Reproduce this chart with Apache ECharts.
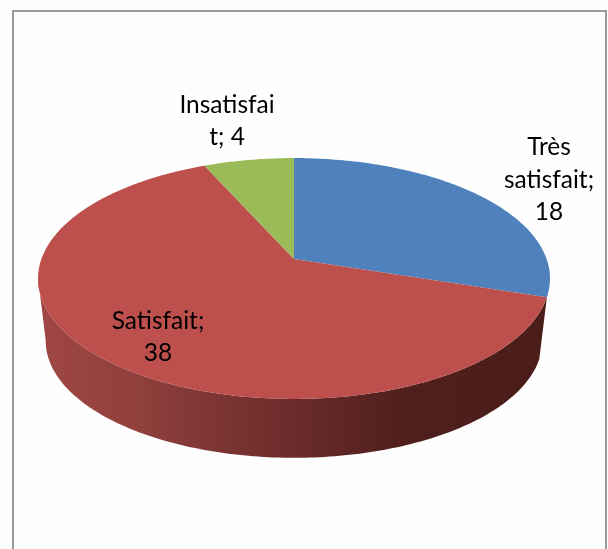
<!DOCTYPE html>
<html>
<head>
<meta charset="utf-8">
<title>Satisfaction</title>
<script src="https://cdn.jsdelivr.net/npm/echarts@6/dist/echarts.min.js"></script>
<style>
html, body { margin: 0; padding: 0; background: #fff; }
#chart { width: 608px; height: 549px; }
</style>
</head>
<body>
<div id="chart"></div>
<script>
// donnees
var categories = ['Très satisfait', 'Satisfait', 'Insatisfait'];
var values = [18, 38, 4];
var colors = ['#4f81bd', '#bd504d', '#9bbb59'];
// retours a la ligne du libelle, comme sur l'original
var labelLines = [['Très', 'satisfait;', '18'], ['Satisfait;', '38'], ['Insatisfai', 't; 4']];
var labelPos = [[549, 180], [158, 337], [227, 121]];

// projection du disque en perspective
var cx = 294, cy = 259, radius = 252.6, tilt = 117.3, persp = 0.162;
var depth = 63, bottomScale = 0.97;
// angle du bord gauche de l'ellipse (tangente du flanc)
var leftEdge = 261;

var total = 0;
for (var t = 0; t < values.length; t++) total += values[t];

function project(deg, isBottom) {
	var a = deg * Math.PI / 180;
	var u = Math.sin(a), v = -Math.cos(a);
	var s = 1 / (1 - persp * v);
	if (isBottom) {
		s = s * bottomScale;
		return [cx + radius * u * s, cy + depth + tilt * v * s];
	}
	return [cx + radius * u * s, cy + tilt * v * s];
}

function arcPoints(from, to, isBottom) {
	var pts = [];
	var n = Math.max(2, Math.ceil(Math.abs(to - from)));
	for (var i = 0; i <= n; i++) {
		pts.push(project(from + (to - from) * i / n, isBottom));
	}
	return pts;
}

// degrade du flanc, de gauche a droite
var sideFill = {
	type: 'linear', x: 38, y: 0, x2: 550, y2: 0, global: true,
	colorStops: [
		{ offset: 0, color: '#a04744' },
		{ offset: 0.2, color: '#8f3f3c' },
		{ offset: 0.5, color: '#6a2b2a' },
		{ offset: 0.72, color: '#4f1f1c' },
		{ offset: 1, color: '#4a1d19' }
	]
};

function renderSlice(params, api) {
	var idx = params.dataIndex;
	var start = 0;
	for (var i = 0; i < idx; i++) start += values[i] / total * 360;
	var end = start + api.value(1) / total * 360;
	var children = [];

	// flanc visible : seulement la part rouge, a l'avant
	if (end - start > 180) {
		var stop = Math.min(end, leftEdge);
		var side = arcPoints(start, stop, false).concat(arcPoints(stop, start, true));
		children.push({ type: 'polygon', shape: { points: side }, style: { fill: sideFill } });
	}

	var top = [[cx, cy]].concat(arcPoints(start, end, false));
	children.push({ type: 'polygon', shape: { points: top }, style: { fill: colors[idx] } });

	children.push({
		type: 'text',
		z2: 10,
		style: {
			text: labelLines[idx].join('\n'),
			x: labelPos[idx][0],
			y: labelPos[idx][1],
			align: 'center',
			verticalAlign: 'middle',
			fill: '#000',
			font: '24.5px Lato',
			lineHeight: 32.5
		}
	});
	return { type: 'group', children: children };
}

var seriesData = [];
for (var k = 0; k < categories.length; k++) {
	seriesData.push({ name: categories[k], value: [k, values[k]] });
}

var myChart = echarts.init(document.getElementById('chart'), null, { renderer: 'canvas' });
myChart.setOption({
	animation: false,
	backgroundColor: '#fefefe',
	graphic: [
		{
			type: 'rect',
			shape: { x: 13, y: 11, width: 593, height: 560 },
			style: { fill: 'none', stroke: '#9a9a9a', lineWidth: 2 }
		}
	],
	series: [
		{
			type: 'custom',
			coordinateSystem: 'none',
			renderItem: renderSlice,
			data: seriesData
		}
	]
});
</script>
</body>
</html>
